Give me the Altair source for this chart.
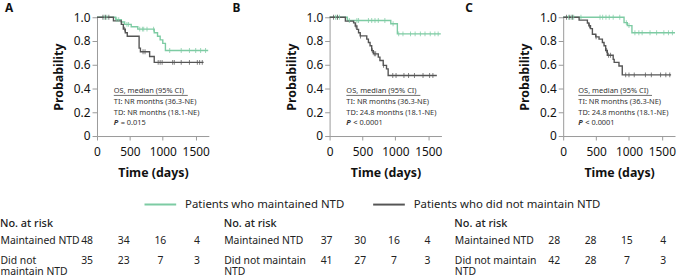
import altair as alt
import pandas as pd

# ---------------- series ----------------
GROUPS = ["Patients who maintained NTD", "Patients who did not maintain NTD"]
COLORS = ["#7dcba3", "#555555"]
FONT = "Noto Sans"

# ---------------- panel A (Kaplan-Meier steps: day, survival after step) ----------------
a_main_t = [0, 285, 370, 420, 520, 620, 870, 920, 960, 1000, 1040, 1690]
a_main_s = [1.0, 0.98, 0.96, 0.94, 0.92, 0.90, 0.87, 0.84, 0.81, 0.78, 0.72, 0.72]
a_main_c = [110, 150, 300, 330, 455, 480, 650, 690, 710, 760, 860, 1105, 1280, 1405, 1500, 1575, 1650]
a_not_t = [0, 250, 370, 400, 430, 460, 640, 660, 800, 870, 1620]
a_not_s = [1.0, 0.97, 0.94, 0.90, 0.87, 0.84, 0.74, 0.71, 0.67, 0.62, 0.62]
a_not_c = [90, 130, 180, 420, 700, 730, 930, 960, 990, 1150, 1175, 1280, 1405, 1525, 1560, 1600]

# ---------------- panel B ----------------
b_main_t = [0, 270, 930, 1030, 1690]
b_main_s = [1.0, 0.973, 0.945, 0.86, 0.86]
b_main_c = [90, 115, 150, 300, 415, 440, 590, 640, 690, 740, 840, 965, 1050, 1115, 1230, 1300,
            1380, 1450, 1530, 1600, 1650]
b_not_t = [0, 240, 365, 390, 415, 440, 465, 565, 590, 615, 640, 665, 740, 765, 815, 865, 890, 1630]
b_not_s = [1.0, 0.967, 0.953, 0.926, 0.898, 0.870, 0.843, 0.816, 0.788, 0.760, 0.719, 0.692,
           0.664, 0.636, 0.595, 0.565, 0.51, 0.51]
b_not_c = [60, 120, 400, 470, 650, 680, 700, 820, 960, 1010, 1130, 1200, 1290, 1420, 1520, 1570]

# ---------------- panel C ----------------
c_main_t = [0, 925, 975, 1045, 1700]
c_main_s = [1.0, 0.955, 0.93, 0.87, 0.87]
c_main_c = [80, 130, 160, 270, 560, 600, 650, 700, 760, 860, 960, 1000, 1090, 1150, 1200, 1320,
            1420, 1530, 1600, 1660]
c_not_t = [0, 242, 368, 390, 415, 444, 495, 545, 596, 621, 646, 671, 760, 775, 848, 898, 1640]
c_not_s = [1.0, 0.976, 0.952, 0.928, 0.904, 0.857, 0.835, 0.816, 0.788, 0.76, 0.72, 0.68, 0.645,
           0.62, 0.59, 0.515, 0.515]
c_not_c = [50, 100, 140, 400, 500, 660, 690, 720, 950, 1000, 1080, 1250, 1340, 1480, 1560, 1620]

# ---------------- in-panel statistics ----------------
note_head = "OS, median (95% CI)"
notes_ti = ["TI: NR months (36.3-NE)", "TI: NR months (36.3-NE)", "TI: NR months (36.3-NE)"]
notes_td = ["TD: NR months (18.1-NE)", "TD: 24.8 months (18.1-NE)", "TD: 24.8 months (18.1-NE)"]
notes_p = ["= 0.015", "< 0.0001", "< 0.0001"]
note_day = [255, 255, 230]
note_prob = [0.375, 0.285, 0.197, 0.11]
underline_end = [1380, 1380, 1350]
underline_prob = 0.342

# ---------------- numbers at risk ----------------
risk_days = [0, 500, 1000, 1500]
risk_main = [[48, 34, 16, 4], [37, 30, 16, 4], [28, 28, 15, 4]]
risk_not = [[35, 23, 7, 3], [41, 27, 7, 3], [42, 28, 7, 3]]
risk_row_main = "Maintained NTD"
risk_row_not = ["Did not|maintain NTD", "Did not maintain|NTD", "Did not maintain|NTD"]

color_scale = alt.Scale(domain=GROUPS, range=COLORS)
legend = alt.Legend(
    orient="none", legendX=47, legendY=172, direction="horizontal", title=None,
    symbolType="stroke", symbolSize=1024, symbolStrokeWidth=2,
    labelFont=FONT, labelFontSize=11.5, labelColor="#222222", labelOffset=8,
    labelLimit=400, columnPadding=25,
)

X_AXIS = alt.Axis(values=[0, 500, 1000, 1500], format="d", title="Time (days)",
                  grid=False, labelOverlap=False,
                  labelFont=FONT, labelFontSize=12, labelColor="#111111",
                  titleFont=FONT, titleFontSize=12.5, titleFontWeight="bold",
                  titleColor="#111111", domainColor="#9a9a9a", tickColor="#9a9a9a",
                  tickSize=4, labelPadding=7, titlePadding=9, labelFlush=False)
Y_AXIS = alt.Axis(values=[0, 0.2, 0.4, 0.6, 0.8, 1.0], title="Probability", grid=False,
                  labelOverlap=False,
                  labelExpr="datum.value == 0 ? '0' : format(datum.value, '.1f')",
                  labelFont=FONT, labelFontSize=12, labelColor="#111111",
                  titleFont=FONT, titleFontSize=12.5, titleFontWeight="bold",
                  titleColor="#111111", domainColor="#9a9a9a", tickColor="#9a9a9a",
                  tickSize=5, labelPadding=2, titlePadding=8, labelFlush=False)


def step_value(ts, ss, day):
    val = ss[0]
    for t, s in zip(ts, ss):
        if t <= day:
            val = s
    return val


def km_panel(idx, letter, letter_dx, curves):
    line_rows, cens_rows = [], []
    for group, (ts, ss, cs) in zip(GROUPS, curves):
        for t, s in zip(ts, ss):
            line_rows.append({"day": t, "prob": s, "group": group})
        for c in cs:
            cens_rows.append({"day": c, "prob": step_value(ts, ss, c), "group": group})
    lines_df = pd.DataFrame(line_rows)
    cens_df = pd.DataFrame(cens_rows)

    x = alt.X("day:Q", scale=alt.Scale(domain=[0, 1700], nice=False), axis=X_AXIS)
    y = alt.Y("prob:Q", scale=alt.Scale(domain=[0, 1], nice=False), axis=Y_AXIS)

    steps = alt.Chart(lines_df).mark_line(interpolate="step-after", strokeWidth=1.4).encode(
        x=x, y=y, color=alt.Color("group:N", scale=color_scale, legend=legend))
    ticks = alt.Chart(cens_df).mark_tick(orient="vertical", size=5, thickness=1, opacity=0.75).encode(
        x=x, y=y, color=alt.Color("group:N", scale=color_scale, legend=None))

    notes_df = pd.DataFrame({
        "day": [note_day[idx]] * 3,
        "prob": note_prob[:3],
        "text": [note_head, notes_ti[idx], notes_td[idx]],
    })
    notes = alt.Chart(notes_df).mark_text(align="left", baseline="middle", font=FONT,
                                          fontSize=7.5, color="#333333").encode(
        x=x, y=y, text="text:N")
    uline_df = pd.DataFrame({"day": [note_day[idx]], "day2": [underline_end[idx]],
                             "prob": [underline_prob]})
    uline = alt.Chart(uline_df).mark_rule(color="#333333", strokeWidth=0.7).encode(
        x=x, x2="day2:Q", y=y)
    p_df = pd.DataFrame({"day": [note_day[idx]], "prob": [note_prob[3]],
                         "sym": ["P"], "val": [notes_p[idx]]})
    p_sym = alt.Chart(p_df).mark_text(align="left", baseline="middle", font=FONT, fontSize=7.5,
                                      fontStyle="italic", fontWeight="bold", color="#333333").encode(
        x=x, y=y, text="sym:N")
    p_val = alt.Chart(p_df).mark_text(align="left", baseline="middle", font=FONT, fontSize=7.5,
                                      dx=7, color="#333333").encode(
        x=x, y=y, text="val:N")

    return alt.layer(steps, ticks, notes, uline, p_sym, p_val).properties(
        width=113, height=120,
        title=alt.TitleParams(letter, anchor="start", frame="group", dx=letter_dx, dy=4, offset=0,
                              font=FONT, fontSize=12, fontWeight="bold", color="#111111"),
    )


def risk_table(idx, x_range, width, pad):
    rows = []
    for d, n in zip(risk_days, risk_main[idx]):
        rows.append({"row": risk_row_main, "day": d, "n": n})
    for d, n in zip(risk_days, risk_not[idx]):
        rows.append({"row": risk_row_not[idx], "day": d, "n": n})
    df = pd.DataFrame(rows)
    return alt.Chart(df).mark_text(baseline="top", font=FONT, fontSize=10.5, color="#222222").encode(
        x=alt.X("day:Q", scale=alt.Scale(domain=[0, 1500], range=x_range, nice=False), axis=None),
        y=alt.Y("row:N", sort=[risk_row_main, risk_row_not[idx]],
                scale=alt.Scale(type="point", padding=0),
                axis=alt.Axis(title=None, ticks=False, domain=False, tickSize=0,
                              labelAlign="left", labelBaseline="top", labelPadding=pad,
                              labelFont=FONT, labelFontSize=10.5, labelColor="#222222",
                              labelLineHeight=11,
                              labelExpr="split(datum.label, '|')")),
        text="n:Q",
    ).properties(
        width=width, height=20,
        title=alt.TitleParams("No. at risk", anchor="start", frame="bounds", offset=7,
                              font=FONT, fontSize=11, fontWeight=500, color="#222222"),
    )


panel_a = km_panel(0, "A", -93, [(a_main_t, a_main_s, a_main_c), (a_not_t, a_not_s, a_not_c)])
panel_b = km_panel(1, "B", -98, [(b_main_t, b_main_s, b_main_c), (b_not_t, b_not_s, b_not_c)])
panel_c = km_panel(2, "C", -99, [(c_main_t, c_main_s, c_main_c), (c_not_t, c_not_s, c_not_c)])

top = alt.hconcat(panel_a, panel_b, panel_c, spacing=21)
bottom = alt.hconcat(
    risk_table(0, [-10, 101], 101, 98),
    risk_table(1, [0, 102], 102, 104),
    risk_table(2, [0, 110], 110, 101),
    spacing=23,
)

chart = alt.vconcat(top, bottom, spacing=39).properties(
    padding={"left": 0, "top": 1, "right": 0, "bottom": 0},
).configure_view(stroke=None)

chart.save("out.html", embed_options={"renderer": "svg", "actions": False})
